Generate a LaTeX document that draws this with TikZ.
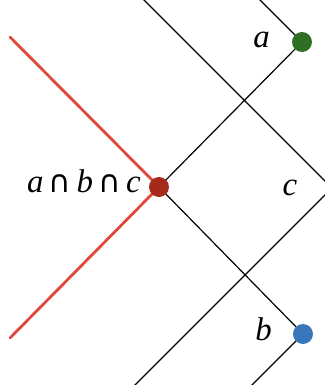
\documentclass[tikz,border=0pt]{standalone}
\usepackage{fontspec}
\setmainfont{Liberation Serif}
\newfontfamily\capfont{DejaVu Sans}
\newcommand{\icap}{\hspace{0.16em}{\upshape\capfont\fontsize{31}{34}\selectfont ∩}\hspace{0.16em}}
\definecolor{dotgreen}{HTML}{2F6F24}
\definecolor{dotblue}{HTML}{3877BA}
\definecolor{dotred}{HTML}{A62A1B}
\definecolor{linered}{HTML}{E0483A}
\begin{document}
\begin{tikzpicture}[x=1bp,y=-1bp,
  ray/.style={line width=1.2pt,black},
  redray/.style={line width=2.8pt,linered,line cap=round},
  dot/.style={circle,inner sep=0pt,minimum size=20bp},
  lbl/.style={inner sep=0pt,anchor=base,font=\fontsize{33}{38}\selectfont\itshape}]
\useasboundingbox (0,0) rectangle (325,385);
\clip (0,0) rectangle (325,385);
% free ends
\coordinate (rtop) at (10,37);
\coordinate (rbot) at (10,338);
\coordinate (atop) at (258,-2);
\coordinate (bbot) at (251,386);
\coordinate (ctop) at (142,-2);
\coordinate (cvert) at (332,188);
\coordinate (cbot) at (134,386);
% dots
\node[dot] (R) at (159,187) {};
\node[dot] (A) at (302,42) {};
\node[dot] (B) at (303,334) {};
% lines
\draw[redray] (rtop) -- (R.center) -- (rbot);
\draw[ray] (atop) -- (A.center) -- (R.center) -- (B.center) -- (bbot);
\draw[ray] (ctop) -- (cvert) -- (cbot);
% dots on top
\node[dot,fill=dotred] at (R) {};
\node[dot,fill=dotgreen] at (A) {};
\node[dot,fill=dotblue] at (B) {};
% labels
\node[lbl,anchor=base east] (abc) at (141,192) {a\icap b\icap c};
\node[lbl] (la) at (261.5,47) {a};
\node[lbl] (lc) at (290,195) {c};
\node[lbl] (lb) at (263.5,340) {b};
\end{tikzpicture}
\end{document}
